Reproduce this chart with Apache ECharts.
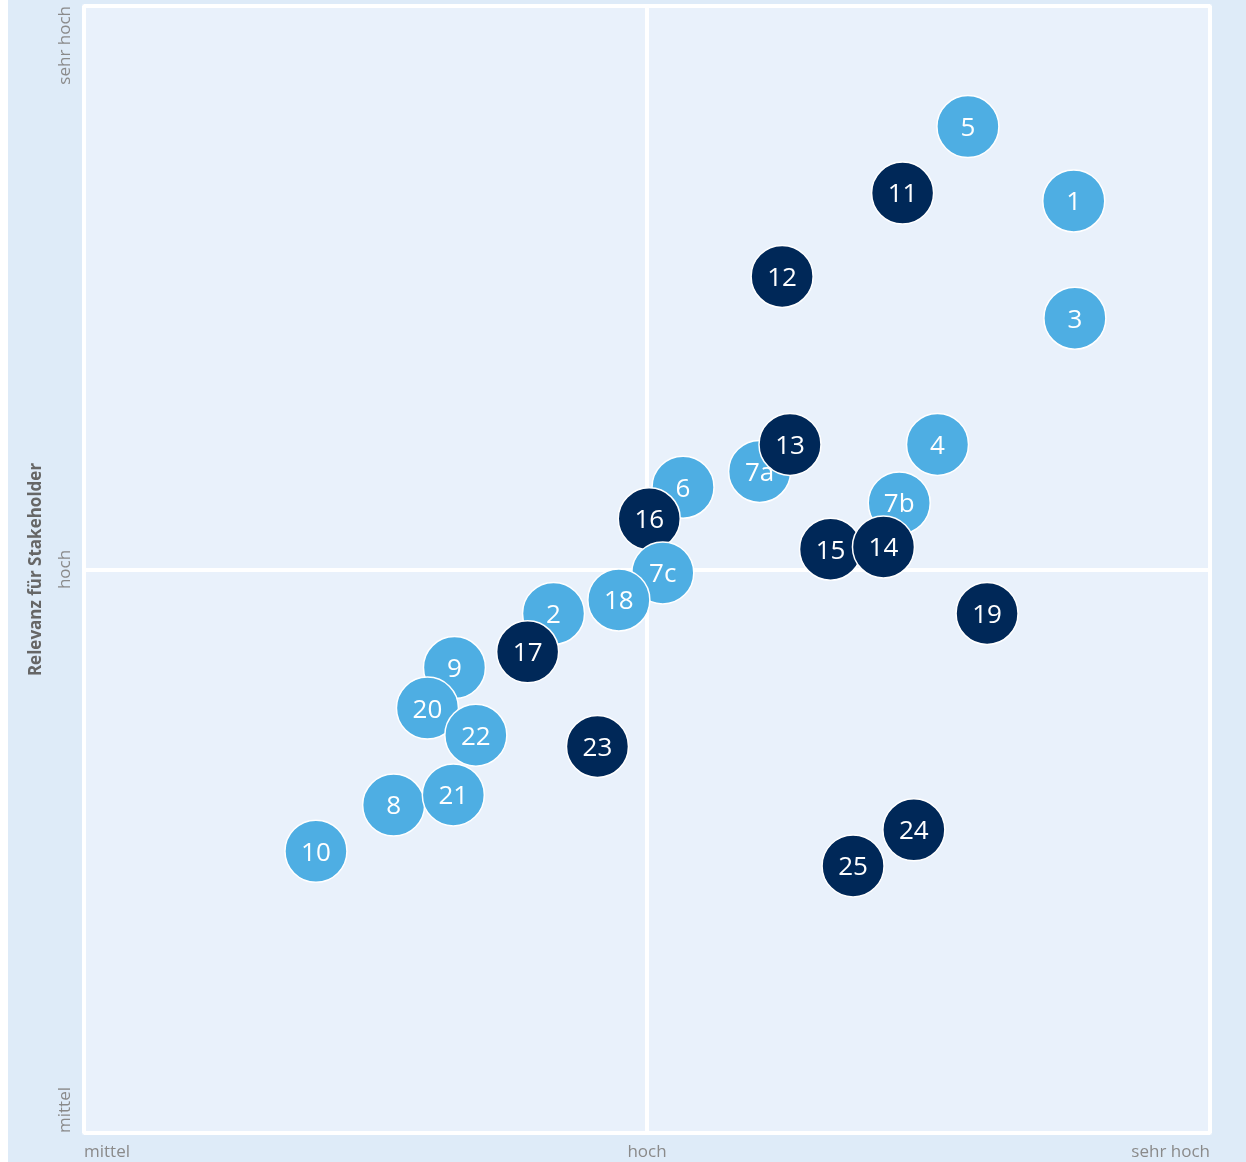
<!DOCTYPE html>
<html>
<head>
<meta charset="utf-8">
<script src="https://cdn.jsdelivr.net/npm/echarts@6/dist/echarts.min.js"></script>
<style>
html,body{margin:0;padding:0;background:#ffffff;}
#chart{position:absolute;left:8px;top:0;width:1238px;height:1162px;}
</style>
</head>
<body>
<div id="chart"></div>
<script>
// Topic labels in drawing order (later ones lie on top)
const topics = ['1','2','3','4','5','6','7a','7b','8','9','10','11','12','13','15','14','16','7c','17','18','19','20','21','22','23','24','25'];
// Relevance for the company (x, 0 = mittel, 50 = hoch, 100 = sehr hoch)
const xValues = [87.9,41.7,88.0,75.8,78.5,53.2,60.0,72.4,27.5,32.9,20.6,72.7,62.0,62.7,66.3,71.0,50.2,51.4,39.4,47.5,80.2,30.5,32.8,34.8,45.6,73.7,68.3];
// Relevance for stakeholders (y)
const yValues = [82.7,46.1,72.3,61.1,89.3,57.3,58.7,55.9,29.1,41.3,25.0,83.4,76.0,61.1,51.8,52.0,54.5,49.7,42.7,47.3,46.1,37.7,30.0,35.3,34.3,26.9,23.7];
// 0 = light blue group, 1 = dark blue group
const groups = [0,0,0,0,0,0,0,0,0,0,0,1,1,1,1,1,1,0,1,0,1,0,0,0,1,1,1];
const tickLabels = {0:'mittel',50:'hoch',100:'sehr hoch'};
const yAxisName = 'Relevanz für Stakeholder';

const colors = ['#4eaee3','#002858'];
const data = topics.map((t,i)=>({
  name:t,
  value:[xValues[i],yValues[i]],
  itemStyle:{color:colors[groups[i]]}
}));

const chart = echarts.init(document.getElementById('chart'));
chart.setOption({
  backgroundColor:'#deebf8',
  animation:false,
  grid:{left:76,right:36,top:6,bottom:29,show:true,backgroundColor:'#e9f1fb',borderColor:'#ffffff',borderWidth:3},
  xAxis:{
    type:'value',min:0,max:100,interval:50,
    axisLine:{show:false},axisTick:{show:false},
    splitLine:{show:true,lineStyle:{color:'#ffffff',width:4}},
    axisLabel:{formatter:v=>tickLabels[v]||'',color:'#8a8a8a',fontSize:17,fontFamily:'Open Sans',margin:11,alignMinLabel:'left',alignMaxLabel:'right'}
  },
  yAxis:{
    type:'value',min:0,max:100,interval:50,
    name:yAxisName,nameLocation:'middle',nameRotate:90,nameGap:39,
    nameTextStyle:{color:'#666666',fontSize:17,fontWeight:'bold',fontFamily:'Open Sans'},
    axisLine:{show:false},axisTick:{show:false},
    splitLine:{show:true,lineStyle:{color:'#ffffff',width:4}},
    axisLabel:{formatter:v=>tickLabels[v]||'',color:'#8a8a8a',fontSize:17,fontFamily:'Open Sans',rotate:90,margin:10,alignMinLabel:'left',alignMaxLabel:'right'}
  },
  series:[{
    type:'scatter',
    symbol:'circle',
    symbolSize:62,
    data:data,
    itemStyle:{borderColor:'#ffffff',borderWidth:1.5,opacity:1},
    label:{show:true,position:'inside',offset:[0,2],formatter:p=>p.name,color:'#ffffff',fontSize:26,fontFamily:'Open Sans'},
    emphasis:{disabled:true}
  }]
});
</script>
</body>
</html>
